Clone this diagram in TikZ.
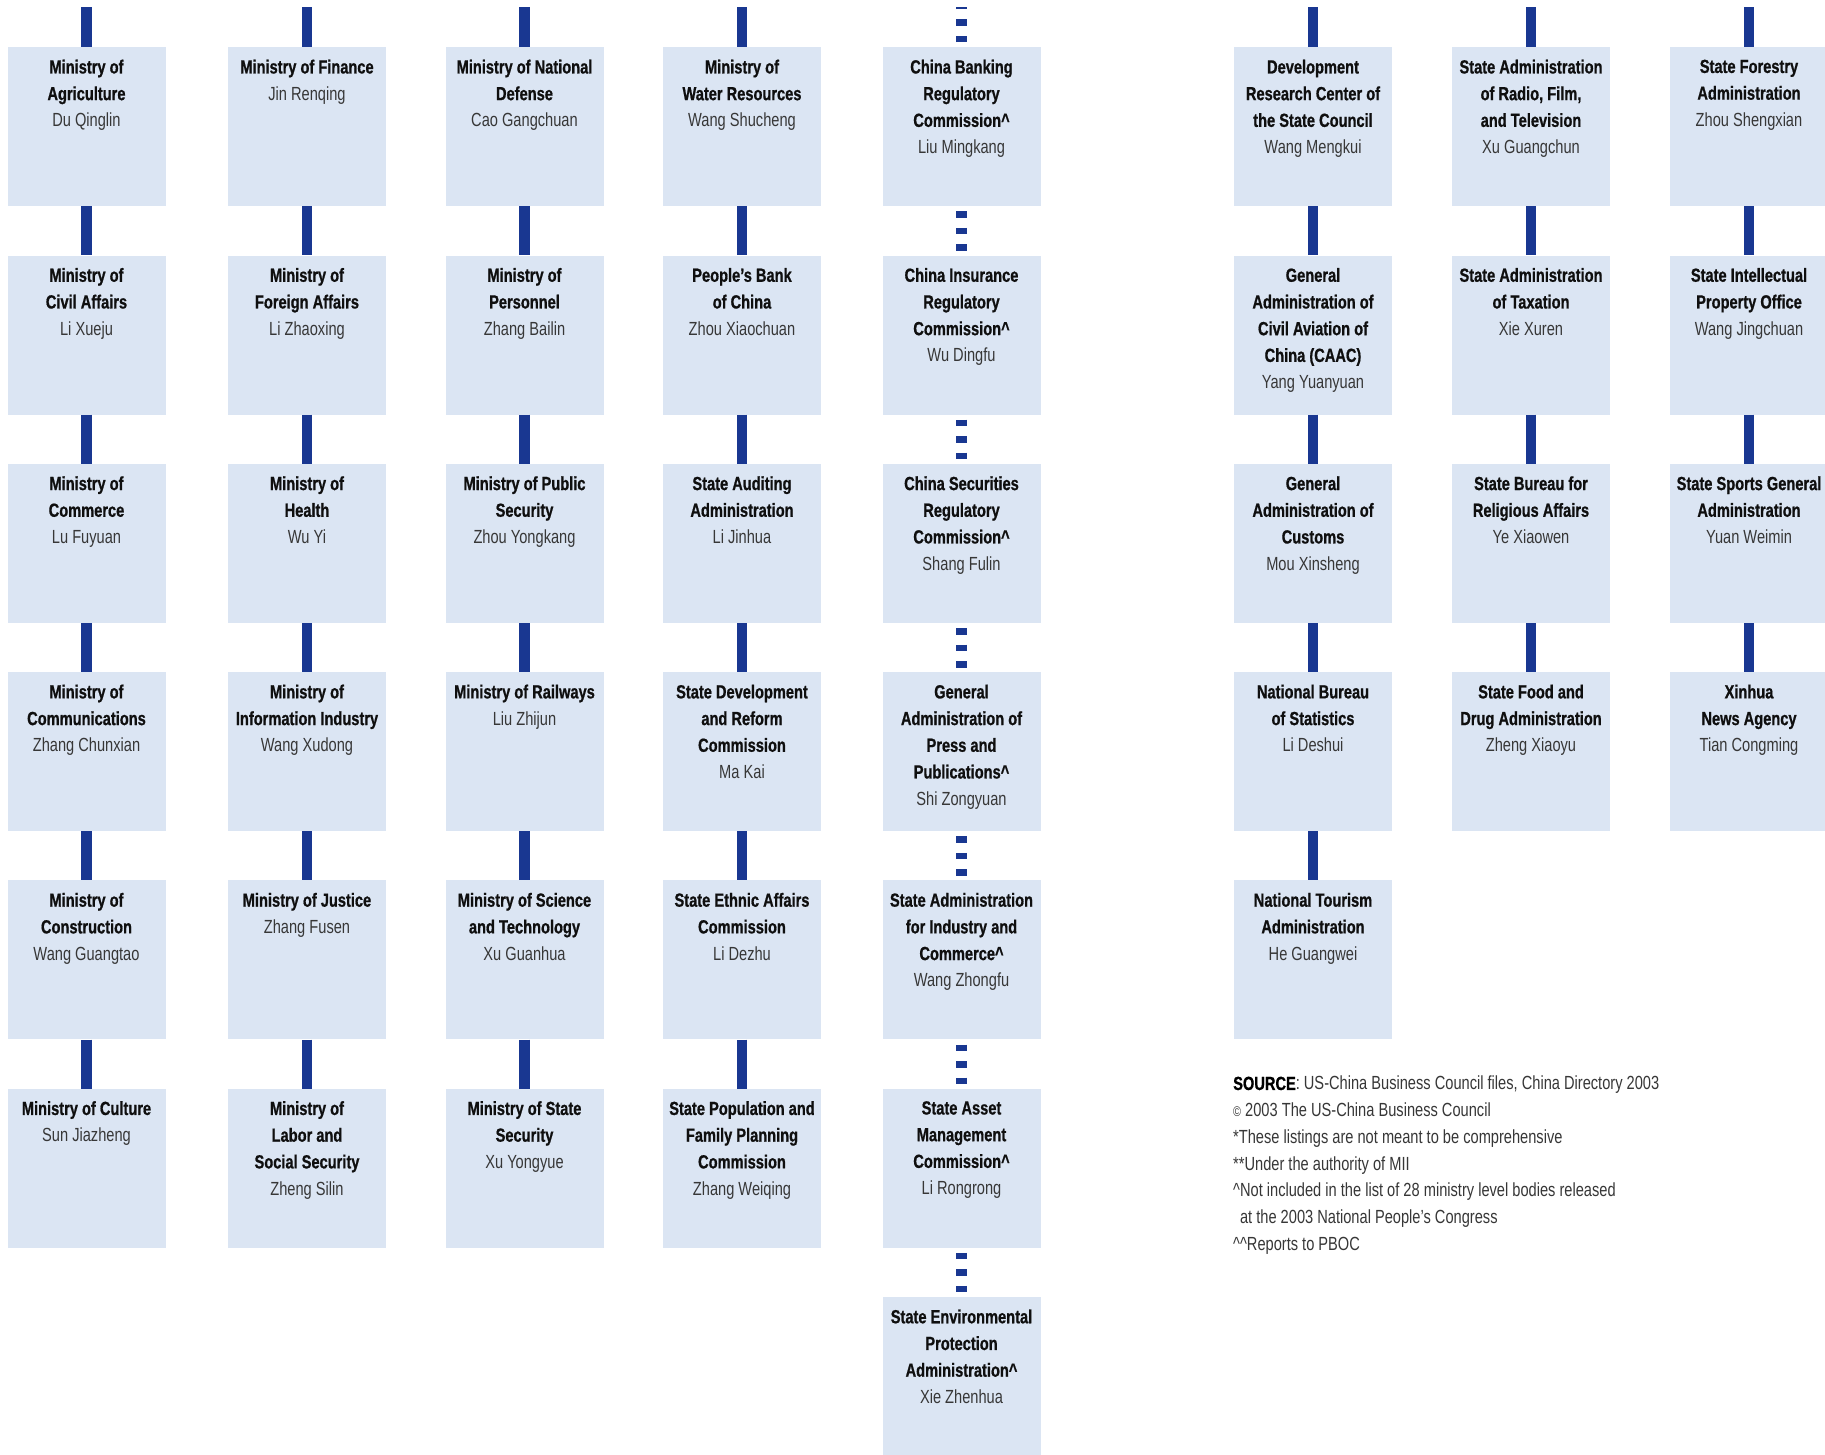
\documentclass[tikz,border=0pt]{standalone}
\usepackage{fontspec}
\setmainfont{Liberation Sans}[FakeStretch=0.77, BoldFeatures={FakeBold=0.8}]
\definecolor{boxfill}{RGB}{219,229,243}
\definecolor{linkblue}{RGB}{25,55,145}
\definecolor{titlecol}{RGB}{15,15,15}
\definecolor{namecol}{RGB}{55,55,55}
\newcommand\govbox[5]{% name, x, top y, title lines, office holder
  \node[officebox] (#1) at (#2,#3) {};
  \node[officetext] (#1t) at ([yshift=-12.5pt]#1.north) {#4\\\mdseries\color{namecol}#5};
}
\begin{document}
\begin{tikzpicture}[x=1pt,y=-1pt,
  officebox/.style={anchor=north, fill=boxfill, draw=none, inner sep=0pt,
    minimum width=158pt, minimum height=159pt},
  officetext/.style={anchor=north, align=center, inner sep=0pt,
    font=\fontsize{19}{26.7}\selectfont\bfseries, text=titlecol},
  link/.style={draw=linkblue, line width=10.5pt},
  dashlink/.style={draw=linkblue, line width=10.5pt,
    dash pattern=on 6.5pt off 10pt, dash phase=11.5pt},
  notes/.style={anchor=north west, align=left, inner sep=0pt,
    font=\fontsize{19}{26.7}\selectfont, text=namecol}]
\useasboundingbox[fill=white] (0,0) rectangle (1825,1454);

% upper ends of the column lines
\coordinate (ta) at (86.5,7);
\coordinate (tb) at (307,7);
\coordinate (tc) at (524.5,7);
\coordinate (td) at (742,7);
\coordinate (te) at (961.5,7);
\coordinate (tf) at (1313,7);
\coordinate (tg) at (1531,7);
\coordinate (th) at (1749,7);

% column 1
\govbox{a1}{86.5}{47}{Ministry of\\Agriculture}{Du Qinglin}
\govbox{a2}{86.5}{255.3}{Ministry of\\Civil Affairs}{Li Xueju}
\govbox{a3}{86.5}{463.6}{Ministry of\\Commerce}{Lu Fuyuan}
\govbox{a4}{86.5}{671.9}{Ministry of\\Communications}{Zhang Chunxian}
\govbox{a5}{86.5}{880.2}{Ministry of\\Construction}{Wang Guangtao}
\govbox{a6}{86.5}{1088.5}{Ministry of Culture}{Sun Jiazheng}

% column 2
\govbox{b1}{307}{47}{Ministry of Finance}{Jin Renqing}
\govbox{b2}{307}{255.3}{Ministry of\\Foreign Affairs}{Li Zhaoxing}
\govbox{b3}{307}{463.6}{Ministry of\\Health}{Wu Yi}
\govbox{b4}{307}{671.9}{Ministry of\\Information Industry}{Wang Xudong}
\govbox{b5}{307}{880.2}{Ministry of Justice}{Zhang Fusen}
\govbox{b6}{307}{1088.5}{Ministry of\\Labor and\\Social Security}{Zheng Silin}

% column 3
\govbox{c1}{524.5}{47}{Ministry of National\\Defense}{Cao Gangchuan}
\govbox{c2}{524.5}{255.3}{Ministry of\\Personnel}{Zhang Bailin}
\govbox{c3}{524.5}{463.6}{Ministry of Public\\Security}{Zhou Yongkang}
\govbox{c4}{524.5}{671.9}{Ministry of Railways}{Liu Zhijun}
\govbox{c5}{524.5}{880.2}{Ministry of Science\\and Technology}{Xu Guanhua}
\govbox{c6}{524.5}{1088.5}{Ministry of State\\Security}{Xu Yongyue}

% column 4
\govbox{d1}{742}{47}{Ministry of\\Water Resources}{Wang Shucheng}
\govbox{d2}{742}{255.3}{People's Bank\\of China}{Zhou Xiaochuan}
\govbox{d3}{742}{463.6}{State Auditing\\Administration}{Li Jinhua}
\govbox{d4}{742}{671.9}{State Development\\and Reform\\Commission}{Ma Kai}
\govbox{d5}{742}{880.2}{State Ethnic Affairs\\Commission}{Li Dezhu}
\govbox{d6}{742}{1088.5}{State Population and\\Family Planning\\Commission}{Zhang Weiqing}

% column 5
\govbox{e1}{961.5}{47}{China Banking\\Regulatory\\Commission\textasciicircum}{Liu Mingkang}
\govbox{e2}{961.5}{255.3}{China Insurance\\Regulatory\\Commission\textasciicircum}{Wu Dingfu}
\govbox{e3}{961.5}{463.6}{China Securities\\Regulatory\\Commission\textasciicircum}{Shang Fulin}
\govbox{e4}{961.5}{671.9}{General\\Administration of\\Press and\\Publications\textasciicircum}{Shi Zongyuan}
\govbox{e5}{961.5}{880.2}{State Administration\\for Industry and\\Commerce\textasciicircum}{Wang Zhongfu}
\govbox{e6}{961.5}{1088.5}{State Asset\\Management\\Commission\textasciicircum}{Li Rongrong}
\govbox{e7}{961.5}{1296.8}{State Environmental\\Protection\\Administration\textasciicircum}{Xie Zhenhua}

% column 6
\govbox{f1}{1313}{47}{Development\\Research Center of\\the State Council}{Wang Mengkui}
\govbox{f2}{1313}{255.3}{General\\Administration of\\Civil Aviation of\\China (CAAC)}{Yang Yuanyuan}
\govbox{f3}{1313}{463.6}{General\\Administration of\\Customs}{Mou Xinsheng}
\govbox{f4}{1313}{671.9}{National Bureau\\of Statistics}{Li Deshui}
\govbox{f5}{1313}{880.2}{National Tourism\\Administration}{He Guangwei}

% column 7
\govbox{g1}{1531}{47}{State Administration\\of Radio, Film,\\and Television}{Xu Guangchun}
\govbox{g2}{1531}{255.3}{State Administration\\of Taxation}{Xie Xuren}
\govbox{g3}{1531}{463.6}{State Bureau for\\Religious Affairs}{Ye Xiaowen}
\govbox{g4}{1531}{671.9}{State Food and\\Drug Administration}{Zheng Xiaoyu}

% column 8
\govbox{h1}{1749}{47}{State Forestry\\Administration}{Zhou Shengxian}
\govbox{h2}{1749}{255.3}{State Intellectual\\Property Office}{Wang Jingchuan}
\govbox{h3}{1749}{463.6}{State Sports General\\Administration}{Yuan Weimin}
\govbox{h4}{1749}{671.9}{Xinhua\\News Agency}{Tian Congming}

% solid column lines
\foreach \c/\n in {a/6,b/6,c/6,d/6,f/5,g/4,h/4}{
  \draw[link] (t\c) -- (\c1.north);
  \foreach \i [remember=\i as \j (initially 1)] in {2,...,\n}
    \draw[link] (\c\j.south) -- (\c\i.north);
}
% dashed column line
\draw[dashlink] (e1.north) -- (te);
\foreach \i [remember=\i as \j (initially 1)] in {2,...,7}
  \draw[dashlink] (e\j.south) -- (e\i.north);

% source and footnotes
\node[notes] (src) at (1233,1076) {%
  {\color{black}\bfseries SOURCE}: US-China Business Council files, China Directory 2003\\
  {\fontsize{14}{14}\selectfont\textcopyright} 2003 The US-China Business Council\\
  *These listings are not meant to be comprehensive\\
  **Under the authority of MII\\
  \textasciicircum Not included in the list of 28 ministry level bodies released\\
  \hphantom{\textasciicircum}at the 2003 National People's Congress\\
  \textasciicircum\textasciicircum Reports to PBOC};
\end{tikzpicture}
\end{document}
